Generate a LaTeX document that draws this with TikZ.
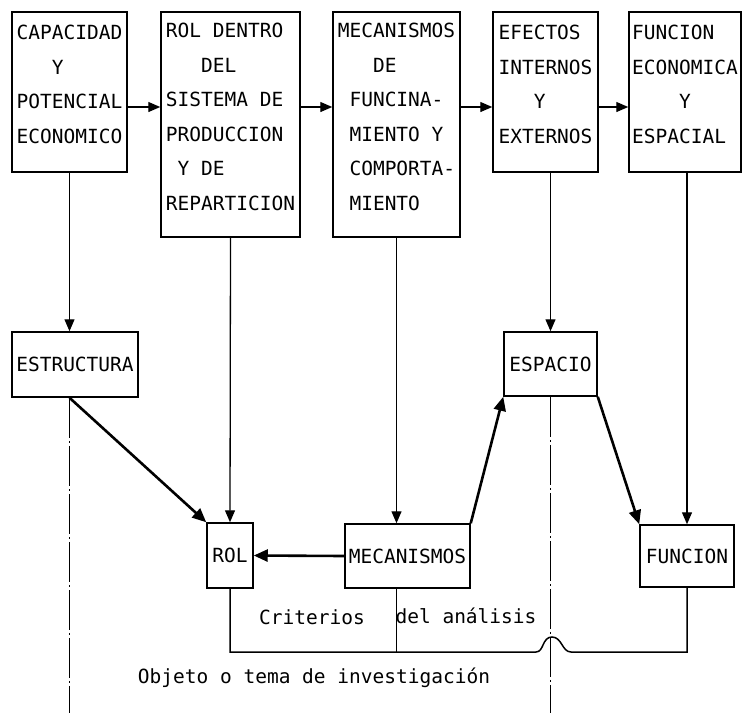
\documentclass[tikz,border=0pt]{standalone}
\usepackage{fontspec}
\setmainfont{DejaVu Sans Mono}
\usetikzlibrary{arrows.meta}
\tikzset{box/.style={draw,line width=1.5pt,align=left,inner sep=0pt},
  tall/.style={box,text depth=15pt},
  link/.style={line width=1.3pt,-{Triangle[length=12pt,width=10pt]}},
  heavy/.style={line width=2.6pt,-{Triangle[length=14pt,width=12pt]}},
  wire/.style={line width=1.5pt},
  guide/.style={line width=0.9pt,dash pattern=on 40pt off 3pt on 2pt off 3pt}}

\begin{document}
\begin{tikzpicture}[x=1pt,y=-1pt,font=\fontsize{19.5}{34.5}\selectfont]
  \useasboundingbox (0,0) rectangle (742,713);
  \node[tall,minimum width=115pt,minimum height=160pt] (cap) at (69.5,92)
    {CAPACIDAD\\\hphantom{MMM}Y\\POTENCIAL\\ECONOMICO};
  \node[tall,minimum width=139pt,minimum height=225pt] (rol) at (230.5,124.5)
    {ROL DENTRO\\\hphantom{MMM}DEL\\SISTEMA DE\\PRODUCCION\\\hphantom{M}Y DE\\REPARTICION};
  \node[tall,minimum width=127pt,minimum height=225pt] (mec) at (396.5,124.5)
    {MECANISMOS\\\hphantom{MMM}DE\\\hphantom{M}FUNCINA-\\\hphantom{M}MIENTO Y\\\hphantom{M}COMPORTA-\\\hphantom{M}MIENTO};
  \node[tall,minimum width=105pt,minimum height=160pt] (efe) at (545.5,92)
    {EFECTOS\\INTERNOS\\\hphantom{MMM}Y\\EXTERNOS};
  \node[tall,minimum width=112pt,minimum height=160pt] (fun) at (685,92)
    {FUNCION\\ECONOMICA\\\hphantom{MMMM}Y\\ESPACIAL};

  \node[box,minimum width=126pt,minimum height=65pt] (estr) at (75,364.5) {ESTRUCTURA};
  \node[box,minimum width=46pt,minimum height=65pt] (rolb) at (230,555.5) {ROL};
  \node[box,minimum width=125pt,minimum height=64pt] (mecb) at (407.5,556) {MECANISMOS};
  \node[box,minimum width=93pt,minimum height=64pt] (esp) at (550.5,364) {ESPACIO};
  \node[box,minimum width=94pt,minimum height=62pt] (func) at (687,556) {FUNCION};

  \node (crit) at (312,617) {Criterios};
  \node (anal) at (466,616) {del análisis};
  \node (obj) at (314,678) {Objeto o tema de investigación};

  \coordinate (row) at (0,107);
  \coordinate (bus) at (0,652);
  \coordinate (foot) at (0,713);

  \draw[link] (cap.east |- row) -- (rol.west |- row);
  \draw[link] (rol.east |- row) -- (mec.west |- row);
  \draw[link] (mec.east |- row) -- (efe.west |- row);
  \draw[link] (efe.east |- row) -- (fun.west |- row);

  \draw[link] (cap.south) -- (cap.south |- estr.north);
  \draw[link] (rol.south) -- (rolb.north);
  \draw[link] (mec.south) -- (mec.south |- mecb.north);
  \draw[link] (efe.south -| esp.north) -- (esp.north);
  \draw[link] (fun.south -| func.north) -- (func.north);

  \draw[guide] (cap.south |- estr.south) -- (cap.south |- foot);
  \draw[guide] (esp.south) -- (esp.south |- foot);

  \draw[heavy] (cap.south |- estr.south) -- (rolb.north west);
  \draw[heavy] (mecb.west) -- (rolb.east);
  \draw[heavy] (mecb.north east) -- (esp.south west);
  \draw[heavy] (esp.south east) -- (func.north west);

  \draw[wire] (rolb.south) -- (rolb.south |- bus) -- (536,652)
    .. controls (544,652) and (542,637) .. (552,637)
    .. controls (562,637) and (562,652) .. (571,652)
    -- (func.south |- bus) -- (func.south);
  \draw[wire] (mec.south |- mecb.south) -- (mec.south |- bus);
\end{tikzpicture}
\end{document}
